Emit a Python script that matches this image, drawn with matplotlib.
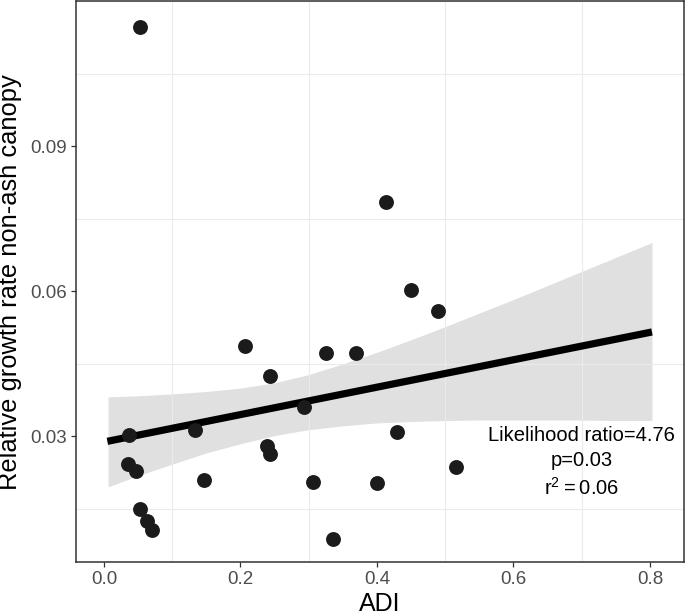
import matplotlib
matplotlib.use("Agg")
import matplotlib.pyplot as plt
from matplotlib.ticker import MultipleLocator

plt.rcParams["font.family"] = ["Liberation Sans", "DejaVu Sans"]
plt.rcParams["mathtext.fontset"] = "custom"
plt.rcParams["mathtext.rm"] = "Liberation Sans"

# punti osservati
adi = [0.0525, 0.4128, 0.4493, 0.4896, 0.2067, 0.3258, 0.3693, 0.2432,
       0.2925, 0.1331, 0.0365, 0.4288, 0.2394, 0.2432, 0.0352, 0.0467,
       0.5152, 0.1459, 0.3059, 0.3994, 0.0525, 0.0627, 0.0698, 0.3360]
growth = [0.1147, 0.0785, 0.0602, 0.0560, 0.0487, 0.0472, 0.0472, 0.0425,
          0.0360, 0.0313, 0.0304, 0.0310, 0.0280, 0.0264, 0.0244, 0.0229,
          0.0236, 0.0210, 0.0205, 0.0203, 0.0151, 0.0125, 0.0107, 0.0089]

# retta del modello
fit_x = [0.005, 0.803]
fit_y = [0.0290, 0.0516]

# banda di confidenza
ci_x = [0.006, 0.05, 0.10, 0.15, 0.20, 0.25, 0.30, 0.35, 0.40, 0.45,
        0.50, 0.55, 0.60, 0.65, 0.70, 0.75, 0.803]
ci_upper = [0.0382, 0.0384, 0.0388, 0.0393, 0.0400, 0.0411, 0.0428, 0.0450,
            0.0474, 0.0500, 0.0527, 0.0555, 0.0583, 0.0612, 0.0641, 0.0670,
            0.0701]
ci_lower = [0.0196, 0.0219, 0.0243, 0.0266, 0.0285, 0.0302, 0.0314, 0.0322,
            0.0328, 0.0331, 0.0333, 0.0334, 0.0334, 0.0334, 0.0334, 0.0333,
            0.0333]

stats_text = "Likelihood ratio=4.76\np=0.03\n$\\mathregular{r^2 = 0.06}$"

fig = plt.figure(figsize=(6.85, 6.11), dpi=100)
ax = fig.add_axes([0.1115, 0.0797, 0.8865, 0.9187])

ax.set_xlim(-0.0404, 0.8494)
ax.set_ylim(0.0040, 0.1200)
ax.xaxis.set_minor_locator(MultipleLocator(0.1))
ax.yaxis.set_minor_locator(MultipleLocator(0.015))
ax.set_yticks([0.03, 0.06, 0.09])
ax.set_yticklabels(["0.03", "0.06", "0.09"])
ax.set_xticks([0.0, 0.2, 0.4, 0.6, 0.8])
ax.set_xticklabels(["0.0", "0.2", "0.4", "0.6", "0.8"])

# griglia stile theme_bw: minori grigie, maggiori bianche sopra
ax.grid(which="minor", color="#ebebeb", linewidth=0.8, zorder=0.5)
ax.grid(which="major", visible=False)
for xv in ax.get_xticks():
    ax.axvline(xv, color="white", linewidth=1.4, zorder=0.6)
for yv in ax.get_yticks():
    ax.axhline(yv, color="white", linewidth=1.4, zorder=0.6)

ax.fill_between(ci_x, ci_lower, ci_upper, color="#e0e0e0", linewidth=0, zorder=1)
ax.plot(fit_x, fit_y, color="black", linewidth=5.2, solid_capstyle="butt", zorder=2)
ax.scatter(adi, growth, s=115, color="#1b1b1b", linewidths=0, zorder=3)

ax.text(0.70, 0.0247, stats_text, ha="center", va="center", fontsize=14.5,
        linespacing=1.4, color="black", zorder=4)

for side in ax.spines.values():
    side.set_color("#333333")
    side.set_linewidth(1.1)

ax.tick_params(which="major", length=3.5, width=0.9, color="#333333",
               labelsize=13.5, labelcolor="#4d4d4d", pad=3)
ax.tick_params(which="minor", length=0)

ax.set_xlabel("ADI", fontsize=18, labelpad=3)
ax.set_ylabel("Relative growth rate non-ash canopy", fontsize=18.4, labelpad=6)

fig.savefig("out.png", dpi=100)
